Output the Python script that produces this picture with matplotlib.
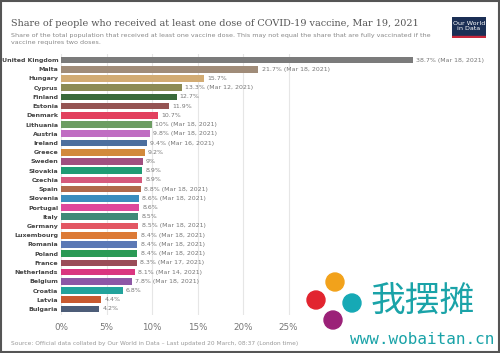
import matplotlib
matplotlib.use("Agg")
import matplotlib.pyplot as plt
from matplotlib.patches import Rectangle, Circle

countries = ["United Kingdom", "Malta", "Hungary", "Cyprus", "Finland", "Estonia", "Denmark",
             "Lithuania", "Austria", "Ireland", "Greece", "Sweden", "Slovakia", "Czechia",
             "Spain", "Slovenia", "Portugal", "Italy", "Germany", "Luxembourg", "Romania",
             "Poland", "France", "Netherlands", "Belgium", "Croatia", "Latvia", "Bulgaria"]
values = [38.7, 21.7, 15.7, 13.3, 12.7, 11.9, 10.7, 10.0, 9.8, 9.4, 9.2, 9.0, 8.9, 8.9,
          8.8, 8.6, 8.6, 8.5, 8.5, 8.4, 8.4, 8.4, 8.3, 8.1, 7.8, 6.8, 4.4, 4.2]
value_text = ["38.7%", "21.7%", "15.7%", "13.3%", "12.7%", "11.9%", "10.7%", "10%", "9.8%",
              "9.4%", "9.2%", "9%", "8.9%", "8.9%", "8.8%", "8.6%", "8.6%", "8.5%", "8.5%",
              "8.4%", "8.4%", "8.4%", "8.3%", "8.1%", "7.8%", "6.8%", "4.4%", "4.2%"]
dates = ["Mar 18, 2021", "Mar 18, 2021", "", "Mar 12, 2021", "", "", "", "Mar 18, 2021",
         "Mar 18, 2021", "Mar 16, 2021", "", "", "", "", "Mar 18, 2021", "Mar 18, 2021", "",
         "", "Mar 18, 2021", "Mar 18, 2021", "Mar 18, 2021", "Mar 18, 2021", "Mar 17, 2021",
         "Mar 14, 2021", "Mar 18, 2021", "", "", ""]
colors = ["#7b7b7b", "#a08c79", "#d2ab73", "#8c8b55", "#3a6a3b", "#955453", "#e2405e",
          "#6c9d62", "#c06dc2", "#4d6f9e", "#d2893b", "#a04f80", "#1e9c74", "#d55a7d",
          "#b0694c", "#3a8dbe", "#de479b", "#3f8a78", "#e35663", "#dc7a36", "#5b78b5",
          "#2a9a55", "#9a4c58", "#da3580", "#8d57a6", "#22a39c", "#c85a30", "#4d5d78"]
xticks = [0, 5, 10, 15, 20, 25]
xtick_labels = ["0%", "5%", "10%", "15%", "20%", "25%"]

W, H = 500, 353
fig = plt.figure(figsize=(5, 3.53), dpi=100)
fig.patch.set_facecolor("white")

n = len(countries)
row = 9.22
top_px = 60 - 0.6 * row
bot_px = 309 + 0.6 * row
left_px = 61
xmax = 47
right_px = left_px + 9.1 * xmax
ax = fig.add_axes([left_px / W, 1 - bot_px / H, (right_px - left_px) / W, (bot_px - top_px) / H])
ys = list(range(n))
ax.barh(ys, values, height=0.72, color=colors, zorder=3)
ax.set_ylim(n - 0.4, -0.6)
ax.set_xlim(0, xmax)
for x in xticks:
    ax.axvline(x, color="#e6e6e6", lw=0.8, zorder=1)
ax.set_yticks(ys)
ax.set_yticklabels(countries, fontsize=4.5, fontweight="bold", color="#444444")
ax.set_xticks(xticks)
ax.set_xticklabels(xtick_labels, fontsize=6.3, color="#777777")
ax.tick_params(length=0, pad=2)
ax.tick_params(axis="x", pad=6)
for s in ax.spines.values():
    s.set_visible(False)
for y, v, t, d in zip(ys, values, value_text, dates):
    label = t if not d else f"{t} ({d})"
    ax.text(v + 0.35, y, label, va="center", ha="left", fontsize=4.5, color="#777777", zorder=4)

# Title and subtitle
fig.text(11 / W, 1 - 23 / H, "Share of people who received at least one dose of COVID-19 vaccine, Mar 19, 2021",
         fontsize=6.9, family="DejaVu Serif", color="#555555", va="center", ha="left")
fig.text(11 / W, 1 - 39 / H,
         "Share of the total population that received at least one vaccine dose. This may not equal the share that are fully vaccinated if the\nvaccine requires two doses.",
         fontsize=4.6, color="#888888", va="center", ha="left", linespacing=1.55)
fig.text(11 / W, 1 - 343 / H,
         "Source: Official data collated by Our World in Data \u2013 Last updated 20 March, 08:37 (London time)",
         fontsize=4.2, color="#999999", va="center", ha="left")

# OWID logo
logo = fig.add_axes([452 / W, 1 - 38 / H, 34 / W, 21 / H])
logo.set_xlim(0, 1); logo.set_ylim(0, 1); logo.axis("off")
logo.add_patch(Rectangle((0, 0), 1, 1, color="#1b2f55"))
logo.add_patch(Rectangle((0, 0), 1, 0.08, color="#c8283c"))
logo.text(0.5, 0.55, "Our World\nin Data", color="white", fontsize=4.6, ha="center", va="center", linespacing=1.0)

# Watermark
wm = fig.add_axes([0, 0, 1, 1], facecolor="none")
wm.set_xlim(0, W); wm.set_ylim(H, 0); wm.axis("off")
for (cx, cy, c) in [(316, 300, "#e2242f"), (335, 282, "#f2a21b"), (352, 303, "#16a9b5"), (333, 320, "#9b2178")]:
    wm.add_patch(Circle((cx, cy), 9, color=c))
wm.text(423, 301, "我摆摊", fontsize=25, color="#1aa3a8", ha="center", va="center",
        family=["Noto Sans CJK SC", "DejaVu Sans"])
wm.text(422, 339, "www.wobaitan.cn", fontsize=11.5, color="#1aa3a8", ha="center", va="center",
        family="DejaVu Sans Mono")

# Frame border
wm.add_patch(Rectangle((1, 1), W - 2, H - 2, fill=False, edgecolor="#555555", lw=1.5))

fig.savefig("out.png", dpi=100)
